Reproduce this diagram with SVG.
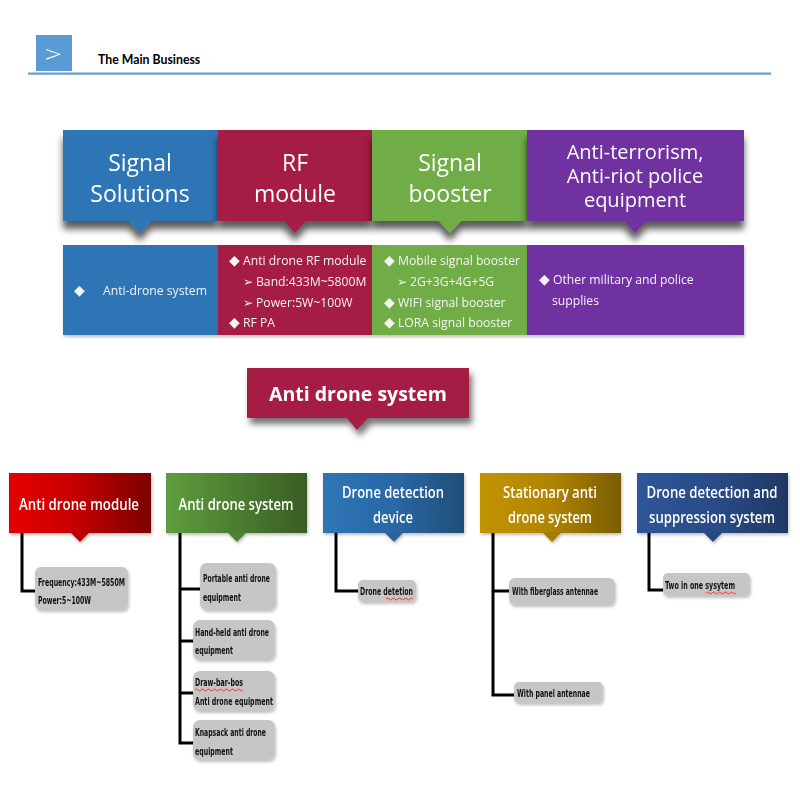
<svg xmlns="http://www.w3.org/2000/svg" width="800" height="800" viewBox="0 0 800 800">
<defs>
<style>
.big{font-family:"Open Sans","Noto Sans",sans-serif;font-size:23px;fill:#fff;text-anchor:middle}
.mid{font-family:"Open Sans","Noto Sans",sans-serif;font-size:20px;fill:#fff;text-anchor:middle}
.sm{font-family:"Open Sans","Noto Sans","DejaVu Sans",sans-serif;font-size:12.2px;fill:#f4f4f4}
.dm{font-family:"DejaVu Sans",sans-serif;font-size:14px}
.hd{font-family:"Open Sans","Noto Sans",sans-serif;font-weight:600;font-size:15.5px;fill:#fff;text-anchor:middle}
.ch{font-family:"DejaVu Sans","Liberation Sans",sans-serif;font-weight:700;font-size:10.5px;fill:#111}
.gb{fill:#c6c6c6}
.wav{fill:none;stroke:#e02020;stroke-width:0.8}
.con{fill:none;stroke:#000;stroke-width:3}
</style>
<filter id="sh1" x="-10%" y="-20%" width="120%" height="170%">
<feDropShadow dx="0" dy="8" stdDeviation="3.5" flood-color="#000" flood-opacity="0.65"/>
</filter>
<filter id="sh2" x="-10%" y="-20%" width="130%" height="170%">
<feDropShadow dx="3" dy="6" stdDeviation="3" flood-color="#000" flood-opacity="0.55"/>
</filter>
<filter id="sh3" x="-10%" y="-20%" width="130%" height="160%">
<feDropShadow dx="1" dy="2" stdDeviation="1.5" flood-color="#000" flood-opacity="0.25"/>
</filter>
<linearGradient id="gRed" x1="0" x2="1" y1="0" y2="0"><stop offset="0" stop-color="#e60000"/><stop offset="0.45" stop-color="#c80000"/><stop offset="1" stop-color="#7a0000"/></linearGradient>
<linearGradient id="gGreen" x1="0" x2="1" y1="0" y2="0"><stop offset="0" stop-color="#5e9e3e"/><stop offset="1" stop-color="#3a5c24"/></linearGradient>
<linearGradient id="gBlue" x1="0" x2="1" y1="0" y2="0"><stop offset="0" stop-color="#2e75b6"/><stop offset="0.5" stop-color="#2a68a6"/><stop offset="1" stop-color="#1f4e79"/></linearGradient>
<linearGradient id="gGold" x1="0" x2="1" y1="0" y2="0"><stop offset="0" stop-color="#c39400"/><stop offset="0.5" stop-color="#b08400"/><stop offset="1" stop-color="#7a5c00"/></linearGradient>
<linearGradient id="gNavy" x1="0" x2="1" y1="0" y2="0"><stop offset="0" stop-color="#2f5597"/><stop offset="0.5" stop-color="#2a4c88"/><stop offset="1" stop-color="#1f3864"/></linearGradient>
</defs>
<rect width="800" height="800" fill="#fff"/>

<g id="header">
<rect x="36" y="35" width="36" height="36" fill="#5b9bd5"/>
<text x="53" y="61" font-family="'DejaVu Sans',sans-serif" font-size="22" font-weight="200" fill="#fff" text-anchor="middle">&gt;</text>
<text x="98" y="64" font-family="Lato,'Open Sans',sans-serif" font-weight="700" font-size="12.3px" fill="#000">The Main Business</text>
<rect x="28" y="72.5" width="743" height="2.2" fill="#6a9bc1"/>
</g>

<g id="top-signal-solutions" filter="url(#sh1)">
<rect x="63" y="130" width="155" height="91" fill="#2e75b6"/>
<path d="M128,220 L152,220 L140,233 Z" fill="#2e75b6"/>
<text class="big" x="140" y="171">Signal</text>
<text class="big" x="140" y="202">Solutions</text>
</g>
<g id="top-rf-module" filter="url(#sh1)">
<rect x="218" y="130" width="154" height="91" fill="#a51a45"/>
<path d="M283,220 L307,220 L295,233 Z" fill="#a51a45"/>
<text class="big" x="295" y="171">RF</text>
<text class="big" x="295" y="202">module</text>
</g>
<g id="top-signal-booster" filter="url(#sh1)">
<rect x="372" y="130" width="155" height="91" fill="#70ad47"/>
<path d="M438,220 L462,220 L450,233 Z" fill="#70ad47"/>
<text class="big" x="450" y="171">Signal</text>
<text class="big" x="450" y="202">booster</text>
</g>
<g id="top-anti-terrorism" filter="url(#sh1)">
<rect x="527" y="130" width="217" height="91" fill="#7030a0"/>
<path d="M623,220 L647,220 L635,233 Z" fill="#7030a0"/>
<text class="mid" x="635" y="159">Anti-terrorism,</text>
<text class="mid" x="635" y="183">Anti-riot police</text>
<text class="mid" x="635" y="207">equipment</text>
</g>

<g id="band-signal-solutions" filter="url(#sh3)">
<rect x="63" y="245" width="155" height="90" fill="#2e75b6"/>
<text class="sm" x="74" y="295"><tspan class="dm">◆</tspan></text>
<text class="sm" x="103" y="295">Anti-drone system</text>
</g>
<g id="band-rf-module" filter="url(#sh3)">
<rect x="218" y="245" width="154" height="90" fill="#a51a45"/>
<text class="sm" x="229" y="265"><tspan class="dm">◆</tspan><tspan x="243">Anti drone RF module</tspan></text>
<text class="sm" x="243" y="286">➢<tspan x="256">Band:433M~5800M</tspan></text>
<text class="sm" x="243" y="307">➢<tspan x="256">Power:5W~100W</tspan></text>
<text class="sm" x="229" y="327"><tspan class="dm">◆</tspan><tspan x="243">RF PA</tspan></text>
</g>
<g id="band-signal-booster" filter="url(#sh3)">
<rect x="372" y="245" width="155" height="90" fill="#70ad47"/>
<text class="sm" x="384" y="265"><tspan class="dm">◆</tspan><tspan x="398">Mobile signal booster</tspan></text>
<text class="sm" x="397" y="286">➢<tspan x="410">2G+3G+4G+5G</tspan></text>
<text class="sm" x="384" y="307"><tspan class="dm">◆</tspan><tspan x="398">WIFI signal booster</tspan></text>
<text class="sm" x="384" y="327"><tspan class="dm">◆</tspan><tspan x="398">LORA signal booster</tspan></text>
</g>
<g id="band-police" filter="url(#sh3)">
<rect x="527" y="245" width="217" height="90" fill="#7030a0"/>
<text class="sm" x="539" y="284"><tspan class="dm">◆</tspan><tspan x="553">Other military and police</tspan></text>
<text class="sm" x="552" y="305">supplies</text>
</g>

<g id="anti-drone-system-banner" filter="url(#sh2)">
<rect x="247" y="368" width="222" height="50" fill="#a51a45"/>
<path d="M346,417 L369,417 L357,430 Z" fill="#a51a45"/>
<text x="358" y="401" font-family="'Open Sans','Noto Sans',sans-serif" font-weight="700" font-size="19.5px" fill="#fff" text-anchor="middle">Anti drone system</text>
</g>

<g id="connectors">
<path class="con" d="M22,532 V591 H37"/>
<path class="con" d="M180,532 V743 H193"/>
<path class="con" d="M180,589 H200"/>
<path class="con" d="M180,641 H193"/>
<path class="con" d="M180,693 H193"/>
<path class="con" d="M336,532 V591 H358"/>
<path class="con" d="M493,532 V695 H515"/>
<path class="con" d="M493,591 H510"/>
<path class="con" d="M649,532 V590 H663"/>
</g>

<g id="h-anti-drone-module" filter="url(#sh3)">
<rect x="9" y="473" width="142" height="60" fill="url(#gRed)"/>
<path d="M70,532 L90,532 L80,542 Z" fill="#c00000"/>
<text class="hd" x="79" y="510" textLength="120" lengthAdjust="spacingAndGlyphs">Anti drone module</text>
</g>
<g id="h-anti-drone-system" filter="url(#sh3)">
<rect x="166" y="473" width="141" height="60" fill="url(#gGreen)"/>
<path d="M227,532 L247,532 L237,542 Z" fill="#4f8232"/>
<text class="hd" x="236" y="510" textLength="115" lengthAdjust="spacingAndGlyphs">Anti drone system</text>
</g>
<g id="h-drone-detection-device" filter="url(#sh3)">
<rect x="323" y="473" width="141" height="60" fill="url(#gBlue)"/>
<path d="M384,532 L404,532 L394,542 Z" fill="#2963a0"/>
<text class="hd" x="393" y="498" textLength="102" lengthAdjust="spacingAndGlyphs">Drone detection</text>
<text class="hd" x="393" y="523" textLength="40" lengthAdjust="spacingAndGlyphs">device</text>
</g>
<g id="h-stationary" filter="url(#sh3)">
<rect x="480" y="473" width="141" height="60" fill="url(#gGold)"/>
<path d="M542,532 L562,532 L552,542 Z" fill="#a57c00"/>
<text class="hd" x="550" y="498" textLength="94" lengthAdjust="spacingAndGlyphs">Stationary anti</text>
<text class="hd" x="550" y="523" textLength="84" lengthAdjust="spacingAndGlyphs">drone system</text>
</g>
<g id="h-detection-suppression" filter="url(#sh3)">
<rect x="637" y="473" width="151" height="60" fill="url(#gNavy)"/>
<path d="M703,532 L723,532 L713,542 Z" fill="#284a82"/>
<text class="hd" x="712" y="498" textLength="131" lengthAdjust="spacingAndGlyphs">Drone detection and</text>
<text class="hd" x="712" y="523" textLength="126" lengthAdjust="spacingAndGlyphs">suppression system</text>
</g>

<g id="c-frequency" filter="url(#sh3)">
<rect class="gb" x="35" y="567" width="93" height="43" rx="6"/>
<text class="ch" x="38" y="586" textLength="87" lengthAdjust="spacingAndGlyphs">Frequency:433M~5850M</text>
<text class="ch" x="38" y="604" textLength="53" lengthAdjust="spacingAndGlyphs">Power:5~100W</text>
</g>
<g id="c-portable" filter="url(#sh3)">
<rect class="gb" x="200" y="563" width="76" height="47" rx="7"/>
<text class="ch" x="203" y="582" textLength="67" lengthAdjust="spacingAndGlyphs">Portable anti drone</text>
<text class="ch" x="203" y="601" textLength="38" lengthAdjust="spacingAndGlyphs">equipment</text>
</g>
<g id="c-handheld" filter="url(#sh3)">
<rect class="gb" x="193" y="620" width="82" height="40" rx="7"/>
<text class="ch" x="195" y="636" textLength="74" lengthAdjust="spacingAndGlyphs">Hand-held anti drone</text>
<text class="ch" x="195" y="654" textLength="38" lengthAdjust="spacingAndGlyphs">equipment</text>
</g>
<g id="c-drawbar" filter="url(#sh3)">
<rect class="gb" x="193" y="671" width="82" height="40" rx="7"/>
<text class="ch" x="195" y="686" textLength="48" lengthAdjust="spacingAndGlyphs">Draw-bar-bos</text>
<path class="wav" d="M195,690 q1.5,-2 3,0 t3,0 t3,0 t3,0 t3,0 t3,0 t3,0 t3,0 t3,0 t3,0 t3,0 t3,0 t3,0 t3,0 t3,0 t3,0"/>
<text class="ch" x="195" y="705" textLength="78" lengthAdjust="spacingAndGlyphs">Anti drone equipment</text>
</g>
<g id="c-knapsack" filter="url(#sh3)">
<rect class="gb" x="193" y="720" width="82" height="40" rx="7"/>
<text class="ch" x="195" y="736" textLength="71" lengthAdjust="spacingAndGlyphs">Knapsack anti drone</text>
<text class="ch" x="195" y="755" textLength="38" lengthAdjust="spacingAndGlyphs">equipment</text>
</g>
<g id="c-drone-detetion" filter="url(#sh3)">
<rect class="gb" x="358" y="580" width="58" height="22" rx="5"/>
<text class="ch" x="360" y="595" textLength="53" lengthAdjust="spacingAndGlyphs">Drone detetion</text>
<path class="wav" d="M386,599 q1.5,-2 3,0 t3,0 t3,0 t3,0 t3,0 t3,0 t3,0 t3,0 t3,0"/>
</g>
<g id="c-fiberglass" filter="url(#sh3)">
<rect class="gb" x="509" y="578" width="106" height="27" rx="6"/>
<text class="ch" x="512" y="595" textLength="86" lengthAdjust="spacingAndGlyphs">With fiberglass antennae</text>
</g>
<g id="c-panel" filter="url(#sh3)">
<rect class="gb" x="514" y="682" width="89" height="21" rx="5"/>
<text class="ch" x="517" y="697" textLength="73" lengthAdjust="spacingAndGlyphs">With panel antennae</text>
</g>
<g id="c-two-in-one" filter="url(#sh3)">
<rect class="gb" x="663" y="573" width="87" height="23" rx="5"/>
<text class="ch" x="665" y="589" textLength="70" lengthAdjust="spacingAndGlyphs">Two in one sysytem</text>
<path class="wav" d="M706,593 q1.5,-2 3,0 t3,0 t3,0 t3,0 t3,0 t3,0 t3,0 t3,0 t3,0 t3,0"/>
</g>
</svg>
